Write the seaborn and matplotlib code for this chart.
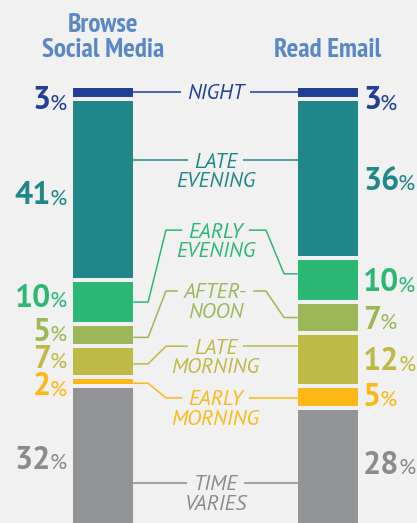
import matplotlib
matplotlib.use("Agg")
import matplotlib.pyplot as plt
import seaborn as sns
import pandas as pd
import numpy as np

# ---- data ---------------------------------------------------------------
activities = ["Browse\nSocial Media", "Read Email"]
periods = ["NIGHT", "LATE\nEVENING", "EARLY\nEVENING", "AFTER-\nNOON",
           "LATE\nMORNING", "EARLY\nMORNING", "TIME\nVARIES"]
social_pct = [3, 41, 10, 5, 7, 2, 32]
email_pct = [3, 36, 10, 7, 12, 5, 28]

# ---- styling / layout ---------------------------------------------------
period_colors = ["#233e97", "#1f868a", "#2db775", "#9cb757",
                 "#bfb945", "#fdb817", "#939497"]
label_colors = ["#233e97", "#1f868a", "#2db775", "#9cb757",
                "#bfb945", "#fdb817", "#8a8b8e"]
bg = "#f1f1f1"
title_color = "#5a87c6"

# vertical row (percent units, top = 0) of each period's centre label
label_rows = [1.4, 16.9, 32.7, 46.5, 59.0, 70.7, 90.0]
# nudges of the value labels away from their segment centres
left_pct_nudge = [1.3, 0.8, -1.5, -1.2, -1.1, 0.6, 0.3]
right_pct_nudge = [1.3, 0.0, 0.0, 0.0, -0.1, -0.6, -1.7]
# where a connector meets a bar: None -> at the label row, else segment middle + nudge
left_anchor = [None, None, 0.0, 0.5, 0.5, 0.4, None]
right_anchor = [None, None, -1.4, 0.0, None, None, None]

sns.set_theme(style="white", rc={"axes.facecolor": bg, "figure.facecolor": bg})
condensed = ["PT Sans Narrow", "Roboto Condensed", "Liberation Sans"]
humanist = ["PT Sans", "Liberation Sans"]

fig = plt.figure(figsize=(4.17, 5.23), dpi=100)
ax = fig.add_axes([0, -0.00803, 1, 0.84398])

bar_w = 0.285
cum_social = np.concatenate([[0], np.cumsum(social_pct)[:-1]])
cum_email = np.concatenate([[0], np.cumsum(email_pct)[:-1]])

# stacked bars, one period at a time, growing downward
for i, per in enumerate(periods):
    sub = pd.DataFrame({"activity": activities,
                        "pct": [social_pct[i], email_pct[i]]})
    sns.barplot(data=sub, x="activity", y="pct", color=period_colors[i],
                saturation=1, width=bar_w, bottom=[cum_social[i], cum_email[i]],
                edgecolor=bg, linewidth=2.9, ax=ax, zorder=3)

ax.set_xlim(-0.4601, 1.3973)
ax.set_ylim(100, 0)
ax.set_axis_off()

# ---- column titles ------------------------------------------------------
title_kw = dict(color=title_color, fontsize=19.6, fontweight="bold",
                family=condensed, ha="center", va="baseline")
ax.text(0, -12.26, "Browse", **title_kw)
ax.text(0, -6.52, "Social Media", **title_kw)
ax.text(1, -6.52, "Read Email", **title_kw)

# ---- period names between the bars -------------------------------------
cap_half = 1.68
line_step = 4.42
first_lines = []
for i, per in enumerate(periods):
    for k, ln in enumerate(per.split("\n")):
        t = ax.text(0.5, label_rows[i] + cap_half + k * line_step, ln,
                    color=label_colors[i], fontsize=15.4, style="italic",
                    family=humanist, ha="center", va="baseline")
        if k == 0:
            first_lines.append(t)

# ---- value labels -------------------------------------------------------
digit_half = 2.55
num_kw = dict(fontsize=23, fontweight="bold", family=humanist, va="baseline")
pct_kw = dict(fontsize=16, family=humanist, va="baseline")
left_pairs, right_pairs = [], []
for i in range(len(periods)):
    yl = cum_social[i] + social_pct[i] / 2 + left_pct_nudge[i] + digit_half
    yr = cum_email[i] + email_pct[i] / 2 + right_pct_nudge[i] + digit_half
    pl = ax.text(-0.1639, yl, "%", color=label_colors[i], ha="right", **pct_kw)
    nl = ax.text(-0.1639, yl, f"{social_pct[i]}", color=label_colors[i],
                 ha="right", **num_kw)
    nr = ax.text(1.1577, yr, f"{email_pct[i]}", color=label_colors[i],
                 ha="left", **num_kw)
    pr = ax.text(1.1577, yr, "%", color=label_colors[i], ha="left", **pct_kw)
    left_pairs.append((nl, pl))
    right_pairs.append((nr, pr))

fig.canvas.draw()
renderer = fig.canvas.get_renderer()
inv = ax.transData.inverted()


def px_to_x(px):
    return inv.transform((px, 0))[0]


gap_px = -1.5
for nl, pl in left_pairs:
    bb = pl.get_window_extent(renderer)
    nl.set_x(px_to_x(bb.x0 - gap_px))
for nr, pr in right_pairs:
    bb = nr.get_window_extent(renderer)
    pr.set_x(px_to_x(bb.x1 + gap_px))

# ---- connectors from bars to period names ------------------------------
edge = bar_w / 2 - 2 / 224.5
xl0, xl1, xl2 = 0 + edge, 0.1996, 0.279
xr0, xr1, xr2 = 1 - edge, 0.8049, 0.7247
text_gap = 6
for i, t in enumerate(first_lines):
    bb = t.get_window_extent(renderer)
    tl, tr = px_to_x(bb.x0 - text_gap), px_to_x(bb.x1 + text_gap)
    row = label_rows[i]
    lw = 1.1
    c = label_colors[i]
    if left_anchor[i] is None:
        ax.plot([xl0, tl], [row, row], color=c, lw=lw, zorder=4,
                solid_capstyle="butt")
    else:
        yb = cum_social[i] + social_pct[i] / 2 + left_anchor[i]
        ax.plot([xl0, xl1, xl2, tl], [yb, yb, row, row], color=c, lw=lw,
                zorder=4, solid_capstyle="butt")
    if right_anchor[i] is None:
        ax.plot([tr, xr0], [row, row], color=c, lw=lw, zorder=4,
                solid_capstyle="butt")
    else:
        yb = cum_email[i] + email_pct[i] / 2 + right_anchor[i]
        ax.plot([tr, xr2, xr1, xr0], [row, row, yb, yb], color=c, lw=lw,
                zorder=4, solid_capstyle="butt")

fig.savefig("out.png", dpi=100, facecolor=bg)
